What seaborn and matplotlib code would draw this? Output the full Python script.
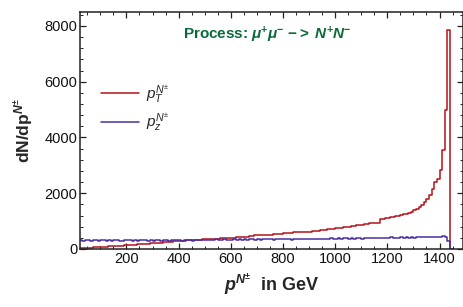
import matplotlib
matplotlib.use("Agg")
import matplotlib.pyplot as plt
import seaborn as sns
import numpy as np
import pandas as pd
from matplotlib.ticker import MultipleLocator

# histogram bins: 10 GeV wide, 20 .. 1450 GeV (last bin empty)
bin_lo = 20
bin_w = 10

pT = [30, 34, 40, 46, 52, 58, 62, 68, 74, 80,
      86, 92, 98, 104, 110, 116, 124, 130, 136, 144,
      150, 156, 164, 170, 178, 184, 192, 198, 206, 214,
      222, 230, 238, 246, 254, 262, 270, 280, 288, 296,
      300, 306, 310, 318, 322, 330, 334, 340, 346, 352,
      358, 362, 368, 374, 378, 384, 390, 396, 402, 408,
      414, 420, 426, 432, 440, 448, 470, 484, 490, 486,
      492, 500, 506, 512, 520, 530, 540, 548, 556, 562,
      572, 582, 594, 606, 616, 620, 614, 610, 618, 630,
      640, 652, 664, 680, 694, 706, 720, 734, 746, 752,
      760, 772, 784, 796, 810, 826, 842, 858, 876, 890,
      904, 918, 930, 940, 948, 1060, 1090, 1100, 1110, 1140,
      1160, 1170, 1190, 1220, 1250, 1270, 1300, 1340, 1400, 1440,
      1500, 1560, 1680, 1800, 1950, 2150, 2400, 2500, 2830, 3550,
      5000, 7850, 0]

pz = [320, 300, 330, 310, 295, 325, 305, 300, 315, 330,
      300, 310, 285, 315, 320, 300, 290, 325, 305, 310,
      295, 320, 300, 310, 330, 305, 290, 315, 300, 320,
      310, 300, 325, 315, 295, 310, 330, 305, 320, 300,
      315, 330, 310, 300, 325, 320, 305, 335, 315, 310,
      330, 320, 340, 315, 325, 345, 330, 310, 335, 340,
      320, 345, 335, 350, 330, 340, 355, 335, 345, 330,
      350, 340, 360, 345, 335, 355, 365, 340, 350, 360,
      345, 335, 355, 360, 340, 350, 345, 365, 355, 340,
      360, 370, 350, 365, 375, 355, 380, 360, 370, 385,
      365, 380, 390, 370, 385, 375, 395, 380, 370, 390,
      385, 400, 380, 395, 410, 390, 405, 385, 400, 415,
      400, 390, 410, 420, 400, 415, 405, 425, 410, 420,
      430, 415, 425, 440, 420, 435, 445, 430, 440, 450,
      430, 300, 0]

edges = [bin_lo + bin_w * i for i in range(len(pT) + 1)]
centers = [e + bin_w / 2 for e in edges[:-1]]

df_T = pd.DataFrame({"p": centers, "w": pT})
df_z = pd.DataFrame({"p": centers, "w": pz})

sns.set_style("ticks")
plt.rcParams["font.family"] = ["Liberation Sans", "DejaVu Sans"]
plt.rcParams["mathtext.fontset"] = "custom"
plt.rcParams["mathtext.rm"] = "Liberation Sans"
plt.rcParams["mathtext.it"] = "Liberation Sans:italic"
plt.rcParams["mathtext.bf"] = "Liberation Sans:bold"
plt.rcParams["mathtext.bfit"] = "Liberation Sans:italic:bold"

red = "#b5121b"
blue = "#4a2ea3"

fig = plt.figure(figsize=(4.63, 3.07), dpi=100)
ax = fig.add_axes([0.1728, 0.189, 0.8272, 0.772])

sns.histplot(data=df_T, x="p", weights="w", bins=edges,
             element="step", fill=False, color=red, linewidth=1.1, ax=ax,
             label=r"$p_T^{N^{\pm}}$")
sns.histplot(data=df_z, x="p", weights="w", bins=edges,
             element="step", fill=False, color=blue, linewidth=1.1, ax=ax,
             label=r"$p_z^{N^{\pm}}$")

ax.set_xlim(22, 1490)
ax.set_ylim(0, 8500)
ax.xaxis.set_major_locator(MultipleLocator(200))
ax.xaxis.set_minor_locator(MultipleLocator(50))
ax.yaxis.set_major_locator(MultipleLocator(2000))
ax.yaxis.set_minor_locator(MultipleLocator(400))
ax.tick_params(which="both", direction="in", top=True, right=True,
               labelsize=10.5, colors="#222222", labelcolor="#111111", pad=2)
ax.tick_params(which="major", length=4, width=0.9)
ax.tick_params(which="minor", length=2, width=0.7)
for s in ax.spines.values():
    s.set_linewidth(1.1)
    s.set_color("#222222")

ax.set_xlabel(r"$\mathbfit{p}^{\mathbfit{N}^{\mathbf{\pm}}}$  in GeV",
              fontsize=13, fontweight="bold", labelpad=4)
ax.set_ylabel(r"dN/dp$^{\mathbfit{N}^{\mathbf{\pm}}}$",
              fontsize=12.5, fontweight="bold", labelpad=6)

ax.text(0.49, 0.905,
        r"Process: $\mathbfit{\mu}^{\mathbf{+}}\mathbfit{\mu}^{\mathbf{-}}$ $\mathbf{->}$ $\mathbfit{N}^{\mathbf{+}}\mathbfit{N}^{\mathbf{-}}$",
        transform=ax.transAxes, ha="center", va="center",
        fontsize=11, fontweight="bold", color="#0a6a3a")

ax.legend(loc="upper left", bbox_to_anchor=(0.02, 0.76), frameon=False,
          fontsize=11, handlelength=2.45, labelspacing=0.45, handletextpad=0.5)

fig.savefig("out.png", dpi=100)
